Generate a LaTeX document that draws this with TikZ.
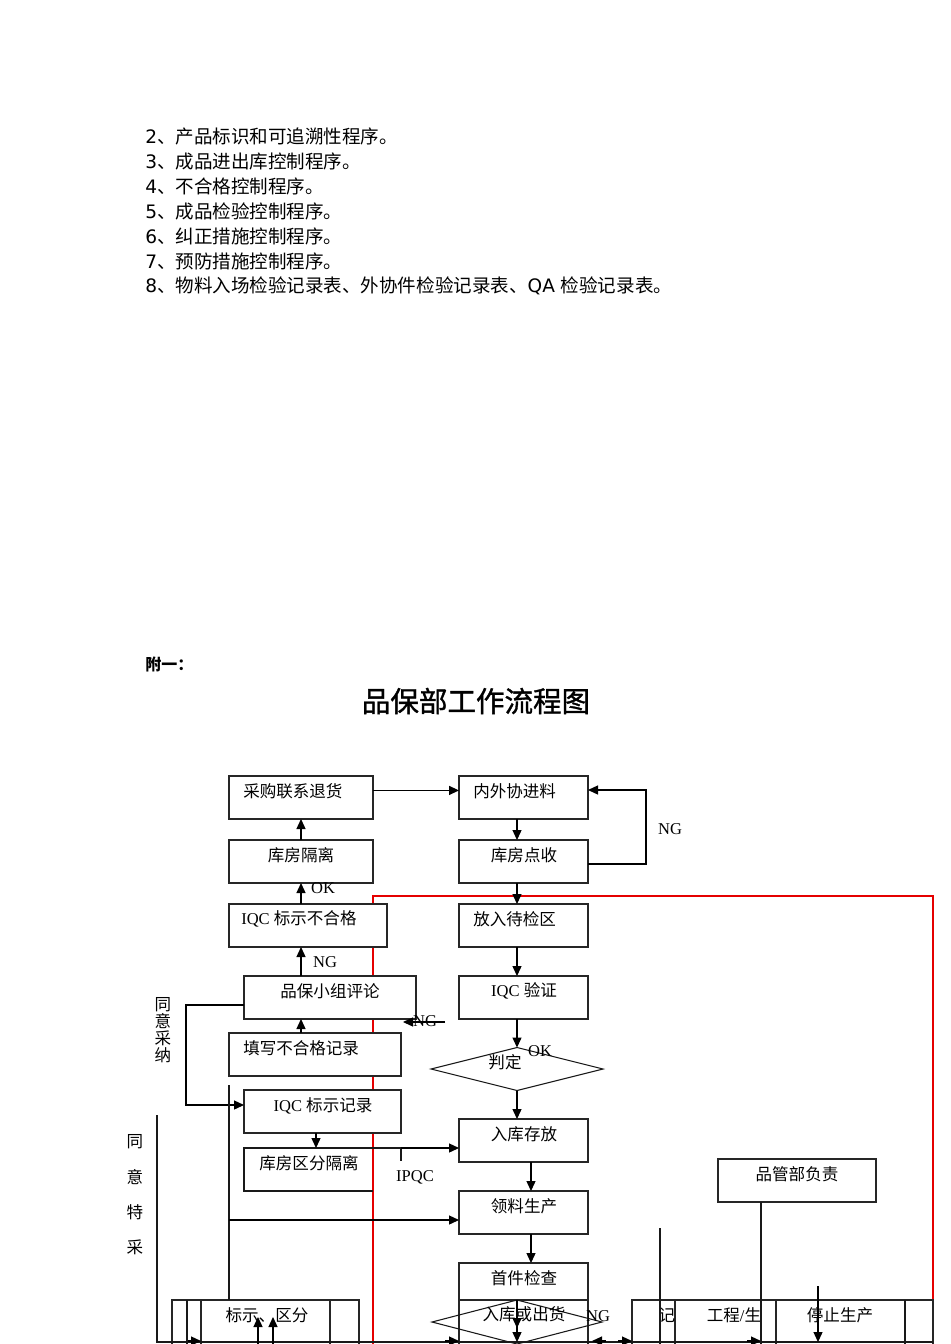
\documentclass[tikz,border=0pt]{standalone}
\usepackage{fontspec}
\setmainfont{Liberation Serif}
\newfontfamily\cjk{Noto Sans CJK SC}
\newfontfamily\cjkt[FakeBold=1.2]{Noto Sans CJK SC}
\newfontfamily\dv{DejaVu Sans}
\usetikzlibrary{arrows.meta,shapes.geometric}
\newcommand\pxbox[6][]{\node[bx,#1,minimum width={(#5-#3)*0.75pt},minimum height={(#6-#4)*0.75pt}] (#2) at ({(#3+#5)/2},{(#4+#6)/2}) {};}
\tikzset{
  bx/.style={draw=black!85, line width=0.8pt, fill=white, inner sep=0pt, outer sep=0pt, rectangle},
  dia/.style={diamond, draw=black!90, line width=0.8pt, inner sep=0pt, outer sep=0pt},
  arr/.style={line width=0.8pt, draw=black, -{Triangle[length=7.5pt,width=6.8pt]}},
  ln/.style={line width=0.8pt, draw=black!90},
  redln/.style={line width=0.9pt, draw=red!90!black},
  lst/.style={anchor=west, inner sep=0pt, font=\fontsize{13.9pt}{16pt}\selectfont},
  tx/.style={inner sep=0pt, font=\fontsize{12.4pt}{14pt}\selectfont},
}
\begin{document}
\begin{tikzpicture}[x=0.75pt,y=-0.75pt]
\useasboundingbox (0,0) rectangle (950,1344);
\clip (0,0) rectangle (950,1344);
\fill[white] (0,0) rectangle (950,1344);

% list
\node[lst] (l2) at (145,136) {{\dv 2}{\cjk 、产品标识和可追溯性程序。}};
\node[lst] (l3) at (145,161) {{\dv 3}{\cjk 、成品进出库控制程序。}};
\node[lst] (l4) at (145,186) {{\dv 4}{\cjk 、不合格控制程序。}};
\node[lst] (l5) at (145,211) {{\dv 5}{\cjk 、成品检验控制程序。}};
\node[lst] (l6) at (145,236) {{\dv 6}{\cjk 、纠正措施控制程序。}};
\node[lst] (l7) at (145,261) {{\dv 7}{\cjk 、预防措施控制程序。}};
\node[lst] (l8) at (145,286) {{\dv 8}{\cjk 、物料入场检验记录表、外协件检验记录表、}{\dv QA }{\cjk 检验记录表。}};

\node[anchor=west, inner sep=0pt, font=\cjk\bfseries\fontsize{12pt}{14pt}\selectfont] (fy) at (145,664) {附一：};
\node[inner sep=0pt, font=\cjkt\fontsize{21.4pt}{24pt}\selectfont] (title) at (476,701) {品保部工作流程图};

% red frame
\coordinate (r1) at (373,1350);
\coordinate (r2) at (373,896);
\coordinate (r3) at (933,896);
\coordinate (r4) at (933,1300);
\draw[redln] (r1) -- (r2) -- (r3) -- (r4);

% boxes
\pxbox{cg}{229}{776}{373}{819}
\pxbox{nwx}{459}{776}{588}{819}
\pxbox{kfgl}{229}{840}{373}{883}
\pxbox{kfds}{459}{840}{588}{883}
\pxbox{iqcng}{229}{904}{387}{947}
\pxbox{fr}{459}{904}{588}{947}
\pxbox{pb}{244}{976}{416}{1019}
\pxbox{iqcyz}{459}{976}{588}{1019}
\pxbox{txb}{229}{1033}{401}{1076}
\pxbox{iqcbs}{244}{1090}{401}{1133}
\pxbox{rkcf}{459}{1119}{588}{1162}
\pxbox[draw=none,fill=none]{kfqf}{244}{1148}{401}{1191}
\pxbox{llsc}{459}{1191}{588}{1234}
\pxbox{sjjc}{459}{1263}{588}{1300}
\pxbox[fill=none]{rkch}{459}{1300}{588}{1350}
\pxbox{pgb}{718}{1159}{876}{1202}
\pxbox[fill=none]{bl1}{172}{1300}{359}{1350}
\pxbox[fill=none]{bl2}{201}{1300}{330}{1350}
\pxbox[fill=none]{br0}{632}{1300}{933}{1350}
\pxbox[fill=none]{br1}{675}{1300}{776}{1350}
\node[dia, fill=white, minimum width={172*0.75pt}, minimum height={43*0.75pt}] (pd) at (517,1069) {};
\node[dia, minimum width={170*0.75pt}, minimum height={44*0.75pt}] (ckd) at (517,1322) {};

% partial box 库房区分隔离
\draw[ln] (kfqf.north east) -- (kfqf.north west) -- (kfqf.south west) -- (kfqf.south -| r2);
\draw[ln] (kfqf.north east) -- ++(0,13);
\coordinate (b187t) at (187,1300);
\coordinate (b187b) at (187,1350);
\draw[ln] (b187t) -- (b187b);
\coordinate (b905t) at (905,1300);
\coordinate (b905b) at (905,1350);
\draw[ln] (b905t) -- (b905b);

% texts
\node[tx, anchor=west] (tcg) at (243,791) {\cjk 采购联系退货};
\node[tx, anchor=west] (tnwx) at (473,791) {\cjk 内外协进料};
\node[tx] (tkfgl) at (301,855) {\cjk 库房隔离};
\node[tx] (tkfds) at (524,855) {\cjk 库房点收};
\node[tx, anchor=west] (tiqcng) at (241,919) {IQC {\cjk 标示不合格}};
\node[tx, anchor=west] (tfr) at (473,919) {\cjk 放入待检区};
\node[tx] (tpb) at (330,991) {\cjk 品保小组评论};
\node[tx] (tiqcyz) at (524,991) {IQC {\cjk 验证}};
\node[tx, anchor=west] (ttxb) at (243,1048) {\cjk 填写不合格记录};
\node[tx] (tpd) at (505,1062) {\cjk 判定};
\node[tx] (tiqcbs) at (323,1106) {IQC {\cjk 标示记录}};
\node[tx] (trkcf) at (524,1134) {\cjk 入库存放};
\node[tx] (tkfqf) at (309,1163) {\cjk 库房区分隔离};
\node[tx] (tipqc) at (415,1177) {IPQC};
\node[tx] (tllsc) at (524,1206) {\cjk 领料生产};
\node[tx] (tsjjc) at (524,1278) {\cjk 首件检查};
\node[tx] (trkch) at (524,1314) {\cjk 入库或出货};
\node[tx] (tng4) at (598,1316) {NG};
\node[tx] (tpgb) at (797,1174) {\cjk 品管部负责};
\node[tx] (tbsqf) at (267,1315) {\cjk 标示、区分};
\node[tx] (tji) at (667,1315) {\cjk 记};
\node[tx] (tgc) at (734,1315) {{\cjk 工程}/{\cjk 生}};
\node[tx] (ttz) at (840,1315) {\cjk 停止生产};
\node[tx] (tok1) at (323,888) {OK};
\node[tx] (tng1) at (325,962) {NG};
\node[tx] (tng2) at (425,1021) {NG};
\node[tx] (tok2) at (540,1051) {OK};
\node[tx] (tng3) at (670,829) {NG};
\node[tx, align=center, font=\cjk\fontsize{12.4pt}{12.8pt}\selectfont] (tycn) at (163,1030) {同\\意\\采\\纳};
\node[tx, align=center, font=\cjk\fontsize{12.4pt}{26.5pt}\selectfont] (tytc) at (135,1195) {同\\意\\特\\采};

% connectors
\coordinate (cx) at (517,0);
\coordinate (cx2) at (531,0);
\draw[arr] ([yshift=5.3pt]cg.east) -- ([yshift=5.3pt]nwx.west);
\draw[arr] (kfgl.north) -- (cg.south);
\draw[arr] (kfgl.south |- iqcng.north) -- (kfgl.south);
\draw[arr] (kfgl.south |- pb.north) -- (kfgl.south |- iqcng.south);
\draw[arr] (kfgl.south |- txb.north) -- (kfgl.south |- pb.south);
\coordinate (ngs) at (445,1022);
\coordinate (nge) at (403,1022);
\draw[arr] (ngs) -- (nge);
\draw[arr] (nwx.south -| cx) -- (kfds.north -| cx);
\draw[arr] (kfds.south -| cx) -- (fr.north -| cx);
\draw[arr] (fr.south -| cx) -- (iqcyz.north -| cx);
\draw[arr] (iqcyz.south -| cx) -- (pd.north);
\draw[arr] (pd.south) -- (rkcf.north -| cx);
\draw[arr] (rkcf.south -| cx2) -- (llsc.north -| cx2);
\draw[arr] (llsc.south -| cx2) -- (sjjc.north -| cx2);
\coordinate (ngA) at (646,864);
\coordinate (ngB) at (646,790);
\draw[arr] (kfds.east |- ngA) -- (ngA) -- (ngB) -- (nwx.east |- ngB);
\coordinate (tyA) at (186,1005);
\coordinate (tyB) at (186,1105);
\draw[arr] (pb.west |- tyA) -- (tyA) -- (tyB) -- (iqcbs.west |- tyB);
\coordinate (c316) at (316,0);
\draw[arr] (iqcbs.south -| c316) -- (kfqf.north -| c316);
\draw[arr] (kfqf.north east) -- (rkcf.west |- kfqf.north);
\coordinate (vA) at (229,1085);
\coordinate (vB) at (229,1220);
\draw[ln] (vA) -- (bl2.north -| vA);
\draw[arr] (vB) -- (llsc.west |- vB);
\coordinate (tcA) at (157,1115);
\coordinate (tcB) at (157,1342);
\coordinate (tcC) at (933,1342);
\draw[ln] (tcA) -- (tcB) -- (tcC);
% bottom arrows
\draw[arr] (sjjc.south -| cx) -- (517,1342);
\draw[arr] (sjjc.south -| cx) -- (517,1328);
\coordinate (u1a) at (258,1344); \coordinate (u1b) at (258,1317);
\coordinate (u2a) at (273,1344); \coordinate (u2b) at (273,1317);
\draw[arr] (u1a) -- (u1b);
\draw[arr] (u2a) -- (u2b);
\coordinate (h1a) at (188,1341); \coordinate (h1b) at (201,1341);
\coordinate (h2a) at (445,1341); \coordinate (h2b) at (459,1341);
\coordinate (h3a) at (606,1341); \coordinate (h3b) at (592,1341);
\coordinate (h4a) at (618,1341); \coordinate (h4b) at (632,1341);
\coordinate (h5a) at (747,1341); \coordinate (h5b) at (761,1341);
\draw[arr] (h1a) -- (h1b);
\draw[arr] (h2a) -- (h2b);
\draw[arr] (h3a) -- (h3b);
\draw[arr] (h4a) -- (h4b);
\draw[arr] (h5a) -- (h5b);
\coordinate (v660a) at (660,1228); \coordinate (v660b) at (660,1344);
\draw[ln] (v660a) -- (v660b);
\coordinate (c761) at (761,0);
\draw[ln] (pgb.south -| c761) -- (761,1344);
\coordinate (s818) at (818,1286);
\draw[arr] (s818) -- (818,1342);
\end{tikzpicture}
\end{document}
